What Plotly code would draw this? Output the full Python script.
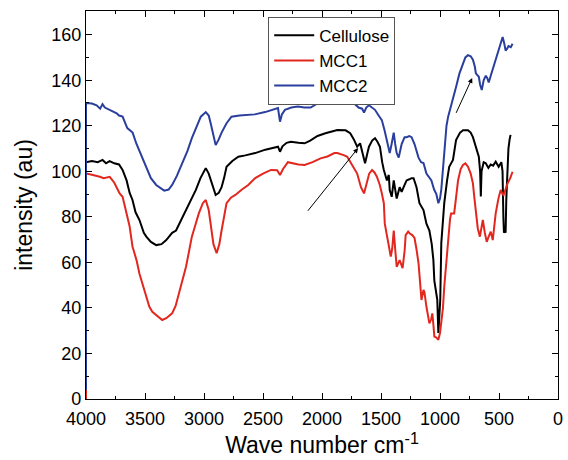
import plotly.graph_objects as go

# ---- data (wavenumber cm^-1, intensity au) ----
cell_wn = [4000, 4000, 3950, 3900, 3860, 3830, 3800, 3760, 3720, 3690, 3656, 3630, 3606, 3580, 3547, 3510, 3489, 3450, 3405, 3360, 3320, 3270, 3237, 3200, 3153, 3110, 3069, 3030, 2985, 2960, 2943, 2920, 2901, 2875, 2851, 2830, 2809, 2760, 2709, 2650, 2566, 2480, 2400, 2373, 2356, 2335, 2300, 2264, 2200, 2147, 2100, 2038, 1971, 1900, 1870, 1800, 1761, 1730, 1702, 1677, 1656, 1635, 1615, 1602, 1575, 1551, 1530, 1509, 1490, 1476, 1450, 1434, 1426, 1409, 1392, 1367, 1342, 1325, 1300, 1283, 1260, 1241, 1224, 1199, 1174, 1157, 1140, 1115, 1090, 1070, 1056, 1048, 1035, 1023, 1014, 1005, 998, 989, 975, 964, 940, 922, 890, 864, 830, 805, 763, 740, 721, 696, 671, 660, 654, 648, 630, 612, 590, 570, 550, 528, 503, 480, 470, 463, 458, 450, 444, 438, 430, 420, 410, 402]
cell_val = [4, 104, 104.5, 104, 105, 103.5, 104.5, 103.5, 103, 100.6, 96, 90.5, 87.4, 82, 78.6, 73, 71.3, 69, 67.6, 68, 69.8, 73, 74, 78, 83, 88, 91.8, 97, 101.4, 99, 96, 92, 89.6, 90.5, 93, 97, 102, 104.5, 106.4, 107, 108, 109.5, 110.5, 110.8, 108.6, 111, 112.5, 113, 112.5, 112.3, 113.5, 115.5, 116.7, 117.5, 118.1, 118, 116.7, 114, 110.8, 112.3, 108, 103.5, 108, 110.8, 113.5, 114.5, 113, 110.8, 104, 100.6, 96, 98.4, 91.8, 88.8, 96, 88, 93, 91, 94, 96, 96.5, 97, 97, 93, 86, 84.5, 83, 77, 74, 68, 61, 52, 47, 43.5, 29, 35, 43.5, 68.5, 80, 86, 96, 102, 105, 113.7, 117, 118, 118, 117, 115, 110.8, 106.4, 100, 89, 100, 104, 103.5, 101.5, 103, 102.5, 104.2, 102, 104, 100, 80, 73, 74, 73, 88, 100, 110, 114, 116]

mcc1_wn = [4000, 4000, 3950, 3900, 3883, 3850, 3799, 3760, 3715, 3690, 3656, 3631, 3606, 3572, 3547, 3522, 3489, 3463, 3438, 3400, 3354, 3320, 3270, 3240, 3212, 3180, 3153, 3130, 3103, 3070, 3044, 3010, 2985, 2960, 2943, 2920, 2893, 2870, 2851, 2830, 2809, 2770, 2734, 2684, 2625, 2566, 2500, 2432, 2380, 2356, 2330, 2289, 2250, 2200, 2147, 2080, 2012, 1954, 1895, 1870, 1811, 1786, 1761, 1730, 1702, 1670, 1644, 1620, 1600, 1576, 1555, 1535, 1510, 1493, 1476, 1468, 1450, 1434, 1417, 1405, 1392, 1380, 1367, 1342, 1317, 1300, 1291, 1270, 1258, 1235, 1216, 1200, 1182, 1170, 1157, 1140, 1132, 1115, 1100, 1090, 1075, 1065, 1055, 1048, 1030, 1014, 1000, 989, 975, 964, 945, 931, 915, 906, 880, 865, 847, 825, 805, 785, 763, 740, 721, 708, 696, 680, 662, 648, 637, 620, 604, 590, 570, 553, 540, 528, 505, 486, 470, 461, 445, 427, 405, 385]
mcc1_val = [0, 99, 98.5, 98, 97.6, 97, 97.6, 95, 90.3, 88.8, 81.6, 76, 67, 61, 55, 51, 45, 40.5, 38.3, 36.5, 34.7, 35.5, 37.6, 41, 46.4, 52, 58, 64, 71.3, 77, 81.5, 86, 87.4, 83, 75.7, 68, 64, 68, 74, 80, 86, 88.5, 89.6, 91.8, 94, 97, 99, 100.6, 100.5, 98.4, 101, 104, 103.5, 103, 102.8, 104, 105.7, 106.5, 108, 108, 107, 106.4, 104.2, 101.5, 99, 93, 90.3, 95, 99, 100.6, 99.5, 97.6, 94, 90.3, 86, 77, 72, 67, 62.5, 66, 74, 66, 58, 61, 57.5, 65, 72, 73.5, 72.8, 72, 70.7, 66, 59.7, 52, 43.5, 47.9, 47, 40.5, 36, 33.2, 35, 37.6, 32, 27.4, 27, 26, 29, 33.2, 40, 49.3, 62, 71.3, 79, 81.5, 81.5, 88, 96, 101, 102.8, 103.5, 102, 99, 94.7, 88, 81.5, 75, 71.3, 75, 78.6, 73, 69, 71, 73.5, 69.8, 75, 81.5, 88, 91.8, 90, 89.6, 92, 94.7, 97, 99.8]

mcc2_wn = [4000, 4000, 3950, 3910, 3880, 3860, 3840, 3800, 3774, 3740, 3720, 3690, 3650, 3605, 3572, 3530, 3489, 3450, 3405, 3370, 3337, 3300, 3270, 3230, 3186, 3140, 3103, 3060, 3027, 2985, 2960, 2943, 2920, 2901, 2875, 2851, 2810, 2767, 2700, 2650, 2570, 2482, 2400, 2373, 2356, 2340, 2314, 2260, 2205, 2150, 2096, 2038, 1979, 1929, 1870, 1811, 1760, 1727, 1690, 1660, 1644, 1625, 1602, 1575, 1551, 1520, 1493, 1470, 1451, 1426, 1410, 1392, 1380, 1367, 1350, 1325, 1300, 1283, 1260, 1241, 1216, 1199, 1182, 1160, 1140, 1115, 1100, 1073, 1050, 1031, 1014, 1000, 989, 975, 964, 945, 931, 910, 889, 864, 835, 805, 785, 763, 740, 721, 705, 696, 671, 660, 646, 630, 612, 600, 587, 570, 553, 528, 510, 486, 469, 455, 444, 430, 419, 400, 385]
mcc2_val = [4, 130, 129.8, 129, 127.5, 129.5, 128, 127, 126, 125.5, 124.5, 124, 119, 117, 112, 107, 102, 97, 94, 92.5, 91.5, 92, 94, 98, 103.6, 109, 114.6, 120, 124, 126, 124.5, 121, 115, 111.5, 114, 117, 121, 124, 124.5, 124.7, 125, 126, 127.5, 127.8, 121.8, 125, 127, 128, 128.4, 128, 128, 129.8, 131, 131.6, 131.8, 131.6, 130.5, 129.8, 128, 127.5, 125.8, 128, 129, 128, 127, 124.5, 122.5, 118, 113.7, 108, 112, 117, 112, 108, 106, 112, 115, 115, 115.5, 115, 112, 109, 106, 104, 103.6, 99, 98, 96, 92, 90, 86, 88, 92, 100, 109, 120, 124, 128, 131, 137, 143, 147.5, 150, 151, 150.5, 149, 146, 143, 141.5, 138, 135.7, 140, 142, 141, 139, 142, 145, 149, 152, 157, 159, 156, 153, 154, 155, 154.5, 156]

series_names = ["Cellulose", "MCC1", "MCC2"]
series_colors = ["#000000", "#e2271f", "#2a3f9d"]

x_ticks = [4000, 3500, 3000, 2500, 2000, 1500, 1000, 500, 0]
y_ticks = [0, 20, 40, 60, 80, 100, 120, 140, 160]

# arrows: (tip wavenumber, tip value, tail wavenumber, tail value)
arrow1 = (1694, 110.2, 2130, 82)
arrow2 = (727, 141, 869, 125)

FONT = "Liberation Sans, Arial, Helvetica, sans-serif"

fig = go.Figure()
for name, wn, val, col in zip(series_names,
                              [cell_wn, mcc1_wn, mcc2_wn],
                              [cell_val, mcc1_val, mcc2_val],
                              series_colors):
    fig.add_trace(go.Scatter(x=wn, y=val, mode="lines", name=name,
                             line=dict(color=col, width=2)))

for (tx, ty, ax_, ay_) in [arrow1, arrow2]:
    fig.add_annotation(x=tx, y=ty, ax=ax_, ay=ay_, xref="x", yref="y",
                       axref="x", ayref="y", showarrow=True, arrowhead=2,
                       arrowsize=1, arrowwidth=1, arrowcolor="#000000", text="")

axis_common = dict(showgrid=False, zeroline=False, showline=True,
                   linecolor="black", linewidth=1.3, mirror="allticks",
                   ticks="inside", ticklen=6, tickwidth=1.2, tickcolor="black",
                   ticklabeloverflow="allow",
                   tickfont=dict(family=FONT, size=18, color="black"))

fig.update_xaxes(range=[4000, 0], tickvals=x_ticks, ticklabelstandoff=3,
                 minor=dict(dtick=250, ticks="inside", ticklen=3, tickcolor="black", showgrid=False),
                 title=dict(text="Wave number cm<sup>-1</sup>",
                            font=dict(family=FONT, size=23, color="black"), standoff=6),
                 **axis_common)
fig.update_yaxes(range=[0, 170.4], tickvals=y_ticks,
                 minor=dict(dtick=10, ticks="inside", ticklen=3, tickcolor="black", showgrid=False),
                 title=dict(text="intensity (au)",
                            font=dict(family=FONT, size=23, color="black"), standoff=12),
                 **axis_common)

fig.update_layout(
    width=568, height=460,
    margin=dict(l=86, r=5, t=11, b=61),
    plot_bgcolor="white", paper_bgcolor="white",
    font=dict(family=FONT, color="black"),
    legend=dict(x=0.386, y=0.985, xanchor="left", yanchor="top",
                bgcolor="white", bordercolor="#555555", borderwidth=1,
                font=dict(family=FONT, size=17, color="black"),
                tracegroupgap=0, itemwidth=40),
    showlegend=True,
)

fig.write_html("out.html")
